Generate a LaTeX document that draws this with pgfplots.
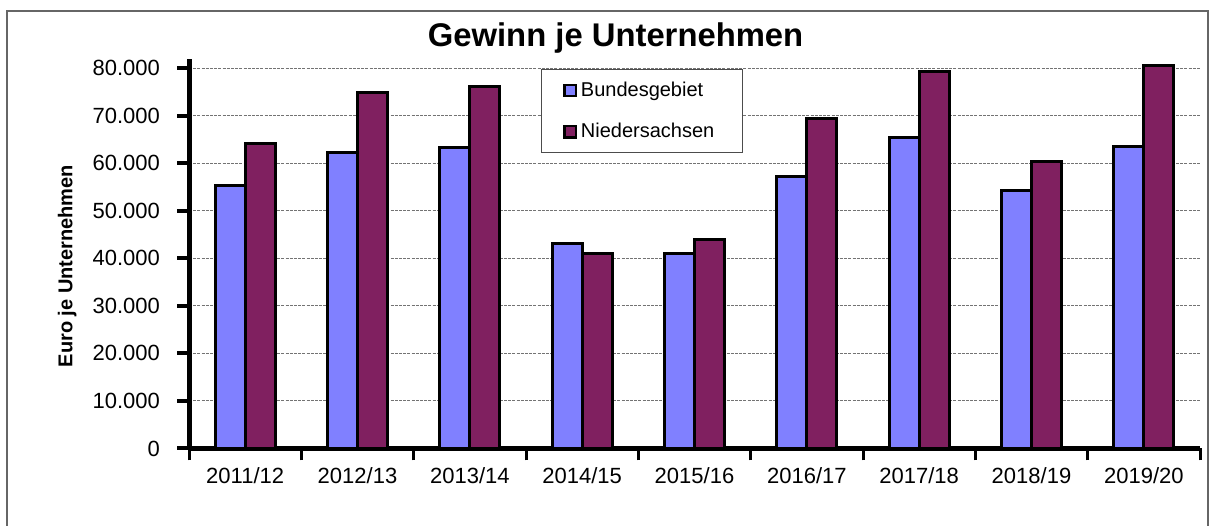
\documentclass[border=0pt]{standalone}
\usepackage{pgfplots}
\pgfplotsset{compat=1.18}
\usepackage{fontspec}
\setmainfont{Liberation Sans}
\definecolor{bund}{RGB}{128,128,255}
\definecolor{nds}{RGB}{128,32,96}
\begin{document}
\begin{tikzpicture}
\useasboundingbox (0,0) rectangle (605pt,262.5pt);
\draw[black!60, line width=0.6pt] (3.5pt,-5pt) -- (3.5pt,257pt) -- (604pt,257pt) -- (604pt,-5pt);
\begin{axis}[
  at={(94.5pt,38.25pt)}, anchor=south west,
  scale only axis, width=505.5pt, height=194.75pt,
  ybar=0pt, bar width=15pt,
  xmin=-0.5, xmax=8.5, ymin=0, ymax=81900,
  axis x line*=bottom, axis y line*=left,
  axis line style={line width=2.5pt, -},
  xtick={-0.5,0.5,...,8.5},
  xticklabels={},
  major x tick style={line width=1.5pt, black},
  extra x ticks={0,...,8},
  extra x tick labels={2011/12,2012/13,2013/14,2014/15,2015/16,2016/17,2017/18,2018/19,2019/20},
  extra x tick style={major tick length=0pt, major x tick style={draw=none}},
  tick align=outside,
  ytick={0,10000,...,80000},
  major y tick style={line width=2pt, black},
  major tick length=6pt,
  scaled y ticks=false,
  /pgf/number format/.cd, fixed, precision=0, 1000 sep={.}, assume math mode=true,
  /pgfplots/.cd,
  ymajorgrids,
  major grid style={line width=0.5pt, black!55, dash pattern=on 1.5pt off 0.6pt},
  tick label style={font=\fontsize{11}{13}\selectfont},
  yticklabel style={xshift=-5pt},
  xticklabel style={yshift=-6pt},
  every axis title shift=0pt,
  title={\textbf{Gewinn je Unternehmen}},
  title style={font=\fontsize{16.4}{19}\selectfont, at={(axis description cs:0.4219,1.0308)}, anchor=base},
  ylabel={\textbf{Euro je Unternehmen}},
  ylabel style={font=\fontsize{10}{12}\selectfont, at={(axis description cs:-0.1205,0.4685)}, anchor=center},
  legend style={at={(axis description cs:0.348,0.974)}, anchor=north west,
    draw=black!70, line width=0.5pt, fill=white,
    font=\fontsize{10}{12}\selectfont, row sep=8pt,
    inner xsep=11pt, inner ysep=4pt,
    /tikz/every even column/.append style={column sep=1pt}},
  legend cell align=left,
  legend image code/.code={\draw[#1, draw=black, line width=1.2pt] (0pt,-2.8pt) rectangle (5.6pt,2.8pt);},
  clip=false,
]
\addplot[fill=bund, draw=black, line width=1.5pt] coordinates {
 (0,55400) (1,62300) (2,63200) (3,43100) (4,41000) (5,57100) (6,65400) (7,54300) (8,63600)};
\addplot[fill=nds, draw=black, line width=1.5pt] coordinates {
 (0,64200) (1,74900) (2,76100) (3,41000) (4,43900) (5,69300) (6,79200) (7,60300) (8,80500)};
\legend{\makebox[68pt][l]{Bundesgebiet}, \makebox[68pt][l]{Niedersachsen}}
\end{axis}
\end{tikzpicture}
\end{document}
